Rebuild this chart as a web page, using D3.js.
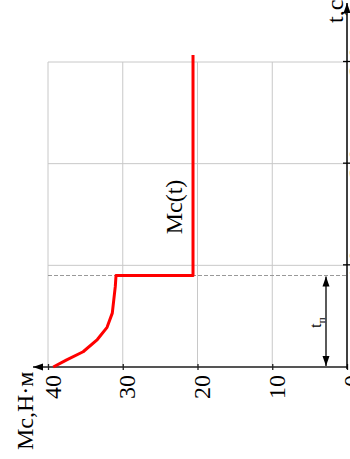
<!DOCTYPE html>
<html>
<head>
    <meta charset="utf-8">
    <title>Mc(t)</title>
    <script src="https://d3js.org/d3.v7.min.js"></script>
    <style>
        body { margin: 0; background: #fff; }
        svg { display: block; font-family: "Liberation Serif", "DejaVu Serif", serif; }
    </style>
</head>
<body>
<svg id="chart"></svg>
<script>
    // curve of Mc over time (t in tick units)
    const tCurve  = [0, 0.07, 0.15, 0.27, 0.39, 0.53, 0.66, 0.79, 0.90, 0.90, 3.07];
    const mcCurve = [39.3, 37.5, 35.3, 33.4, 32.1, 31.4, 31.2, 31.0, 30.9, 20.6, 20.6];
    const tTicks  = [1, 2, 3];
    const mcTicks = [0, 10, 20, 30, 40];
    const tp = 0.9;

    const W = 350, H = 459;
    const svg = d3.select("#chart").attr("width", W).attr("height", H);

    // markers for arrows
    const defs = svg.append("defs");
    defs.append("marker")
        .attr("id", "arr")
        .attr("viewBox", "0 0 10 10")
        .attr("refX", 10).attr("refY", 5)
        .attr("markerWidth", 10).attr("markerHeight", 10)
        .attr("markerUnits", "userSpaceOnUse")
        .attr("orient", "auto-start-reverse")
        .append("path").attr("d", "M0,1.5 L10,5 L0,8.5 Z").attr("fill", "#000");

    // whole chart is drawn as a normal t / Mc plot, then turned by -90 degrees
    const g = svg.append("g").attr("transform", "translate(0," + H + ") rotate(-90)");

    const x = d3.scaleLinear().domain([0, 3]).range([H - 367, H - 62]);   // t
    const y = d3.scaleLinear().domain([0, 40]).range([347, 48]);          // Mc

    // grid
    g.append("g").selectAll("line").data(tTicks).enter().append("line")
        .attr("x1", d => x(d)).attr("x2", d => x(d))
        .attr("y1", y(40)).attr("y2", y(0))
        .attr("stroke", "#c8c8c8").attr("stroke-width", 1);
    g.append("g").selectAll("line").data(mcTicks.filter(d => d > 0)).enter().append("line")
        .attr("x1", x(0)).attr("x2", x(3))
        .attr("y1", d => y(d)).attr("y2", d => y(d))
        .attr("stroke", "#c8c8c8").attr("stroke-width", 1);

    // dashed line at tп
    g.append("line")
        .attr("x1", x(tp)).attr("x2", x(tp))
        .attr("y1", y(40)).attr("y2", y(0))
        .attr("stroke", "#999").attr("stroke-dasharray", "4,2");

    // Mc axis
    g.append("line")
        .attr("x1", x(0)).attr("x2", x(0))
        .attr("y1", y(0)).attr("y2", 33)
        .attr("stroke", "#555").attr("stroke-width", 2)
        .attr("marker-end", "url(#arr)");
    const mcAxis = g.append("g")
        .attr("transform", "translate(" + x(0) + ",0)")
        .call(d3.axisLeft(y).tickValues(mcTicks).tickSize(3).tickPadding(5));
    mcAxis.select(".domain").remove();
    mcAxis.selectAll("line").attr("x1", -3).attr("x2", 3).attr("stroke", "#222").attr("stroke-width", 1.3);
    mcAxis.selectAll("text")
        .attr("font-family", "Liberation Serif").attr("font-size", 24)
        .attr("fill", "#000").attr("dy", "0.5em");

    // t axis
    g.append("line")
        .attr("x1", x(0) - 2).attr("x2", H - 3)
        .attr("y1", y(0)).attr("y2", y(0))
        .attr("stroke", "#000").attr("stroke-width", 1.5)
        .attr("marker-end", "url(#arr)");
    const tAxis = g.append("g")
        .attr("transform", "translate(0," + y(0) + ")")
        .call(d3.axisBottom(x).tickValues(tTicks).tickSize(3).tickPadding(0));
    tAxis.select(".domain").remove();
    tAxis.selectAll("line").attr("y1", -4).attr("y2", 3).attr("stroke", "#000").attr("stroke-width", 1.3);
    tAxis.selectAll("text")
        .attr("font-family", "Liberation Serif").attr("font-size", 24)
        .attr("fill", "#000").attr("y", 1);

    // Mc(t) curve
    const line = d3.line().x((d, i) => x(tCurve[i])).y((d, i) => y(mcCurve[i]));
    g.append("path")
        .datum(mcCurve)
        .attr("d", line)
        .attr("fill", "none")
        .attr("stroke", "#ff0000")
        .attr("stroke-width", 3)
        .attr("stroke-linejoin", "round");

    // tп arrow
    g.append("line")
        .attr("x1", x(0) + 1).attr("x2", x(tp) - 1)
        .attr("y1", 326).attr("y2", 326)
        .attr("stroke", "#000").attr("stroke-width", 1.3)
        .attr("marker-start", "url(#arr)").attr("marker-end", "url(#arr)");
    const tpLabel = g.append("text")
        .attr("x", 131).attr("y", 321)
        .attr("font-size", 17).attr("fill", "#000");
    tpLabel.append("tspan").text("t");
    tpLabel.append("tspan").attr("font-size", 11).attr("dy", 4).text("п");

    // labels
    g.append("text")
        .attr("x", 9).attr("y", 33)
        .attr("font-size", 24).attr("fill", "#000")
        .text("Мс,Н·м");
    g.append("text")
        .attr("x", 436).attr("y", 343)
        .attr("font-size", 24).attr("fill", "#000")
        .text("t,с");
    g.append("text")
        .attr("x", 252).attr("y", 182)
        .attr("text-anchor", "middle")
        .attr("font-size", 24).attr("fill", "#000")
        .text("Мс(t)");
</script>
</body>
</html>
